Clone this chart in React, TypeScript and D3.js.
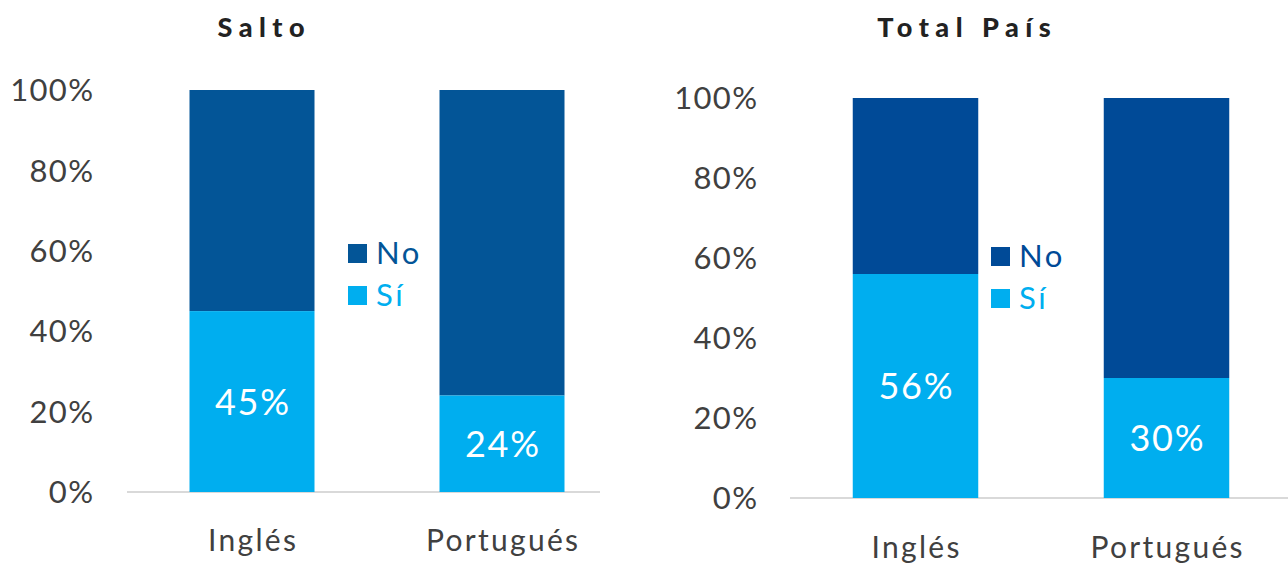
import React from "react";
import * as d3 from "d3";

const categories = ["Inglés", "Portugués"];
const saltoSi = [0.45, 0.24];
const totalSi = [0.56, 0.30];
const yTicks = [0, 0.2, 0.4, 0.6, 0.8, 1.0];
const legendItems = ["No", "Sí"];
const titles = ["Salto", "Total País"];

const LIGHT = "#00AEEF";
const FONT = "Lato, 'Open Sans', sans-serif";

type PanelProps = {
  title: string;
  values: number[];
  dark: string;
  titleX: number;
  yTop: number;
  yBottom: number;
  tickRight: number;
  xRange: [number, number];
  lineRange: [number, number];
  legendX: number;
  legendY: number;
  xLabelY: number;
};

function Panel(p: PanelProps) {
  const y = d3.scaleLinear().domain([0, 1]).range([p.yBottom, p.yTop]);
  const x = d3
    .scaleBand<string>()
    .domain(categories)
    .range(p.xRange)
    .paddingInner(0.5)
    .paddingOuter(0.25);
  const fmt = d3.format(".0%");
  const titleLs = 6.5;
  const tickLs = 1.3;
  const dataLs = 1.8;
  const xLs = 2.3;
  return (
    <g>
      <text
        x={p.titleX + titleLs / 2}
        y={37}
        textAnchor="middle"
        fontFamily={FONT}
        fontWeight={900}
        fontSize={27}
        letterSpacing={titleLs}
        fill="#222"
      >
        {p.title}
      </text>
      {yTicks.map((t) => (
        <text
          key={t}
          x={p.tickRight + tickLs}
          y={y(t)}
          dy="0.36em"
          textAnchor="end"
          fontFamily={FONT}
          fontSize={31}
          letterSpacing={tickLs}
          fill="#404040"
        >
          {fmt(t)}
        </text>
      ))}
      <line
        x1={p.lineRange[0]}
        x2={p.lineRange[1]}
        y1={y(0)}
        y2={y(0)}
        stroke="#d9d9d9"
        strokeWidth={2}
      />
      {categories.map((c, i) => {
        const v = p.values[i];
        const bx = x(c)!;
        const bw = x.bandwidth();
        return (
          <g key={c}>
            <rect x={bx} y={y(1)} width={bw} height={y(v) - y(1)} fill={p.dark} />
            <rect x={bx} y={y(v)} width={bw} height={y(0) - y(v)} fill={LIGHT} />
            <text
              x={bx + bw / 2 + dataLs / 2}
              y={(y(v) + y(0)) / 2}
              dy="0.36em"
              textAnchor="middle"
              fontFamily={FONT}
              fontSize={36}
              letterSpacing={dataLs}
              fill="#fff"
            >
              {fmt(v)}
            </text>
            <text
              x={bx + bw / 2 + xLs / 2}
              y={p.xLabelY}
              textAnchor="middle"
              fontFamily={FONT}
              fontSize={30}
              letterSpacing={xLs}
              fill="#404040"
            >
              {c}
            </text>
          </g>
        );
      })}
      {legendItems.map((l, i) => {
        const col = i === 0 ? p.dark : LIGHT;
        const ly = p.legendY + i * 42;
        return (
          <g key={l}>
            <rect x={p.legendX} y={ly - 20} width={19} height={19} fill={col} />
            <text
              x={p.legendX + 28}
              y={ly}
              fontFamily={FONT}
              fontSize={31}
              letterSpacing={2.5}
              fill={col}
            >
              {l}
            </text>
          </g>
        );
      })}
    </g>
  );
}

export default function App() {
  return (
    <svg
      width={1288}
      height={563}
      style={{ position: "absolute", left: 0, top: 0, background: "#fff" }}
    >
      <Panel
        title={titles[0]}
        values={saltoSi}
        dark="#035597"
        titleX={261}
        yTop={90}
        yBottom={492}
        tickRight={93}
        xRange={[127, 627]}
        lineRange={[127, 600]}
        legendX={348}
        legendY={264}
        xLabelY={551}
      />
      <Panel
        title={titles[1]}
        values={totalSi}
        dark="#004A97"
        titleX={964}
        yTop={98}
        yBottom={498}
        tickRight={757}
        xRange={[790, 1292]}
        lineRange={[790, 1288]}
        legendX={991}
        legendY={267}
        xLabelY={558}
      />
    </svg>
  );
}
